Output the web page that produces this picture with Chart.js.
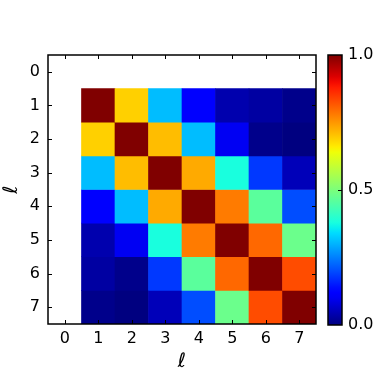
<!DOCTYPE html>
<html><head><meta charset="utf-8">
<script src="https://cdn.jsdelivr.net/npm/chart.js@4/dist/chart.umd.min.js"></script>
<style>
html,body{margin:0;padding:0;background:#fff;}
#wrap{position:relative;width:380px;height:380px;}
#main{position:absolute;left:0;top:0;}
#cbar{position:absolute;left:320px;top:0;}
</style></head><body>
<div id="wrap">
<canvas id="main" width="322" height="380"></canvas>
<canvas id="cbar" width="60" height="380"></canvas>
</div>
<script>
const ellLabels = ['0','1','2','3','4','5','6','7'];
const row1 = [null, 1.00, 0.69, 0.31, 0.12, 0.04, 0.03, 0.01];
const row2 = [null, 0.69, 1.00, 0.71, 0.31, 0.10, 0.01, 0.00];
const row3 = [null, 0.31, 0.71, 1.00, 0.73, 0.38, 0.18, 0.05];
const row4 = [null, 0.12, 0.31, 0.73, 1.00, 0.78, 0.46, 0.20];
const row5 = [null, 0.04, 0.10, 0.38, 0.78, 1.00, 0.80, 0.48];
const row6 = [null, 0.03, 0.01, 0.18, 0.46, 0.80, 1.00, 0.83];
const row7 = [null, 0.01, 0.00, 0.05, 0.20, 0.48, 0.83, 1.00];
const rows = [row1, row2, row3, row4, row5, row6, row7];
const rowIndex = [1, 2, 3, 4, 5, 6, 7];
const cbarTicks = [0, 0.5, 1];

function seg(x, pts){
  for (let i=0;i<pts.length-1;i++){
    const [x0,y0]=pts[i],[x1,y1]=pts[i+1];
    if (x>=x0 && x<=x1) return y0+(y1-y0)*(x-x0)/(x1-x0);
  }
  return pts[pts.length-1][1];
}
function jet(v){
  const r=seg(v,[[0,0],[0.35,0],[0.66,1],[0.89,1],[1,0.5]]);
  const g=seg(v,[[0,0],[0.125,0],[0.375,1],[0.64,1],[0.91,0],[1,0]]);
  const b=seg(v,[[0,0.5],[0.11,1],[0.34,1],[0.65,0],[1,0]]);
  return `rgb(${Math.round(r*255)},${Math.round(g*255)},${Math.round(b*255)})`;
}

const FONT = 'DejaVu Sans';
const datasets = rows.map((vals, i) => {
  const r = rowIndex[i];
  return {
    data: vals.map(v => v === null ? null : [r - 0.5, r + 0.5]),
    backgroundColor: vals.map(v => v === null ? 'rgba(0,0,0,0)' : jet(v)),
    borderWidth: 0,
    barPercentage: 1.0,
    categoryPercentage: 1.0,
    grouped: false
  };
});

const frame = {
  id: 'frame',
  afterDraw(chart){
    const {ctx, chartArea:a, scales} = chart;
    ctx.save();
    ctx.strokeStyle = '#000';
    ctx.lineWidth = 1;
    ctx.beginPath();
    const tl = 4;
    scales.x.ticks.forEach((t, i) => {
      const px = Math.round(scales.x.getPixelForTick(i)) + 0.5;
      ctx.moveTo(px, a.bottom); ctx.lineTo(px, a.bottom - tl);
      ctx.moveTo(px, a.top); ctx.lineTo(px, a.top + tl);
    });
    scales.y.ticks.forEach((t) => {
      const py = Math.round(scales.y.getPixelForValue(t.value)) + 0.5;
      ctx.moveTo(a.left, py); ctx.lineTo(a.left + tl, py);
      ctx.moveTo(a.right, py); ctx.lineTo(a.right - tl, py);
    });
    ctx.stroke();
    ctx.lineWidth = 1.5;
    ctx.strokeRect(a.left, a.top, a.right - a.left, a.bottom - a.top);
    ctx.restore();
  }
};

new Chart(document.getElementById('main'), {
  type: 'bar',
  data: { labels: ellLabels, datasets },
  options: {
    responsive: false,
    animation: false,
    layout: { padding: { top: 55, right: 6, left: 0, bottom: 0 } },
    plugins: { legend: { display: false }, tooltip: { enabled: false } },
    scales: {
      x: {
        type: 'category',
        grid: { display: false, drawTicks: false },
        border: { display: false },
        ticks: { color: '#000', font: { family: FONT, size: 16 }, padding: 5, maxRotation: 0 },
        title: { display: true, text: 'ℓ', color: '#000', font: { family: FONT, size: 20, style: 'italic' }, padding: { top: 0, bottom: 6 } },
        afterFit(s){ s.height = 56; }
      },
      y: {
        type: 'linear',
        reverse: true,
        min: -0.5, max: 7.5,
        afterBuildTicks(s){ s.ticks = ellLabels.map(l => ({ value: Number(l) })); },
        grid: { display: false, drawTicks: false },
        border: { display: false },
        ticks: { color: '#000', font: { family: FONT, size: 16 }, padding: 8, callback: v => String(v) },
        title: { display: true, text: 'ℓ', color: '#000', font: { family: FONT, size: 20, style: 'italic' }, padding: { top: 0, bottom: 4 } },
        afterFit(s){ s.width = 48; }
      }
    }
  },
  plugins: [frame]
});

const cbFrame = {
  id: 'cbFrame',
  afterDraw(chart){
    const {ctx, chartArea:a, scales} = chart;
    ctx.save();
    ctx.strokeStyle = '#000';
    ctx.lineWidth = 1;
    ctx.beginPath();
    const py = Math.round(scales.y.getPixelForValue(0.5)) + 0.5;
    ctx.moveTo(a.right, py); ctx.lineTo(a.right - 4, py);
    ctx.stroke();
    ctx.lineWidth = 1.5;
    ctx.strokeRect(a.left, a.top, a.right - a.left, a.bottom - a.top);
    ctx.restore();
  }
};

new Chart(document.getElementById('cbar'), {
  type: 'bar',
  data: {
    labels: [''],
    datasets: [{
      data: [[0, 1]],
      borderWidth: 0,
      barPercentage: 1.0,
      categoryPercentage: 1.0,
      backgroundColor(c){
        const ch = c.chart; const a = ch.chartArea;
        if (!a) return '#000';
        const y = ch.scales.y;
        const g = ch.ctx.createLinearGradient(0, y.getPixelForValue(0), 0, y.getPixelForValue(1));
        for (let i = 0; i <= 50; i++) { const v = i / 50; g.addColorStop(v, jet(v)); }
        return g;
      }
    }]
  },
  options: {
    responsive: false,
    animation: false,
    layout: { padding: { top: 55, bottom: 55, left: 8, right: 0 } },
    plugins: { legend: { display: false }, tooltip: { enabled: false } },
    scales: {
      x: { display: false },
      y: {
        position: 'right',
        min: 0, max: 1,
        afterBuildTicks(s){ s.ticks = cbarTicks.map(v => ({ value: v })); },
        grid: { display: false, drawTicks: false },
        border: { display: false },
        ticks: { color: '#000', font: { family: FONT, size: 16 }, padding: 6, callback: v => Number(v).toFixed(1) },
        afterFit(s){ s.width = 38; }
      }
    }
  },
  plugins: [cbFrame]
});
</script>
</body></html>
